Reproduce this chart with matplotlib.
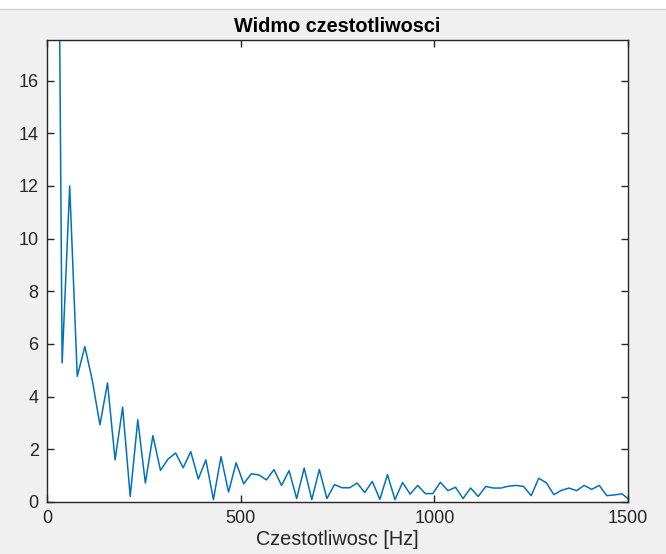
import numpy as np
import matplotlib.pyplot as plt
import matplotlib as mpl

# spectrum bins (fs = 10 kHz, N = 512 -> df = 19.53 Hz), bins 1..77
df = 10000 / 512
amp = [44.0, 5.28, 12.0, 4.77, 5.9, 4.6, 2.93, 4.52, 1.6, 3.6,
       0.21, 3.12, 0.72, 2.52, 1.2, 1.63, 1.86, 1.3, 1.91, 0.87,
       1.6, 0.09, 1.72, 0.38, 1.49, 0.69, 1.07, 1.03, 0.84, 1.23,
       0.63, 1.19, 0.13, 1.29, 0.09, 1.23, 0.13, 0.66, 0.54, 0.54,
       0.72, 0.36, 0.78, 0.1, 1.04, 0.09, 0.74, 0.3, 0.63, 0.32,
       0.32, 0.75, 0.43, 0.56, 0.13, 0.53, 0.21, 0.59, 0.53, 0.53,
       0.6, 0.63, 0.59, 0.24, 0.9, 0.73, 0.28, 0.44, 0.53, 0.43,
       0.63, 0.48, 0.63, 0.24, 0.27, 0.31, 0.08]
freq = np.arange(1, len(amp) + 1) * df

x_ticks = [0, 500, 1000, 1500]
y_ticks = [0, 2, 4, 6, 8, 10, 12, 14, 16]

mpl.rcParams['font.family'] = ['Liberation Sans', 'DejaVu Sans']
mpl.rcParams['font.size'] = 13

dark = '#262626'
fig = plt.figure(figsize=(6.66, 5.54), dpi=100, facecolor='#f0f0f0')
# white strip at the top of the window
fig.patches.append(mpl.patches.Rectangle((0, 1 - 9 / 554), 1, 9 / 554,
                                         transform=fig.transFigure,
                                         facecolor='white', edgecolor='none'))
fig.add_artist(mpl.lines.Line2D([0, 1], [1 - 9 / 554, 1 - 9 / 554],
                                transform=fig.transFigure,
                                color='#d4d4d4', linewidth=1))

ax = fig.add_axes([47 / 666, 1 - 502 / 554, 581 / 666, 462 / 554])
ax.plot(freq, amp, color='#0072BD', linewidth=1.1)

ax.set_xlim(0, 1500)
ax.set_ylim(0, 17.54)
ax.set_xticks(x_ticks)
ax.set_yticks(y_ticks)
ax.tick_params(direction='in', length=5, width=1, colors=dark,
               top=True, right=True, labelsize=13, pad=6)
for s in ax.spines.values():
    s.set_color(dark)
    s.set_linewidth(1)

ax.set_title('Widmo czestotliwosci', fontsize=14.3, fontweight='bold',
             color='black', pad=6)
ax.set_xlabel('Czestotliwosc [Hz]', fontsize=14.3, color=dark, labelpad=2)

plt.savefig('out.png', dpi=100, facecolor=fig.get_facecolor())
